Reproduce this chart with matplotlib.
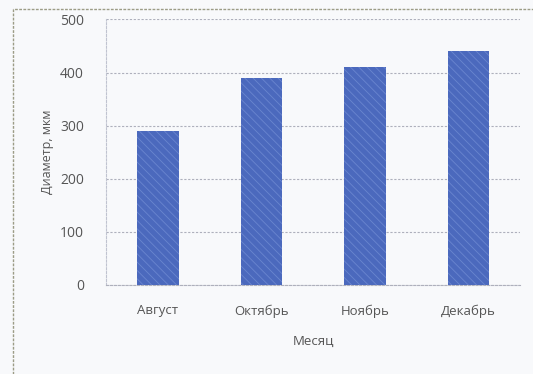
import matplotlib.pyplot as plt
from matplotlib.patches import Rectangle

# Data
months = ['Август', 'Октябрь', 'Ноябрь', 'Декабрь']
diameter = [290, 390, 410, 440]
y_ticks = [0, 100, 200, 300, 400, 500]

plt.rcParams['font.family'] = ['Open Sans', 'DejaVu Sans']
plt.rcParams['hatch.linewidth'] = 0.6

fig = plt.figure(figsize=(5.33, 3.74), dpi=100)
fig.patch.set_facecolor('#f8f9fb')

# outer chart frame (bottom edge falls off the picture)
fig.patches.append(Rectangle((0.024, -0.05), 1.0, 1.025, transform=fig.transFigure,
                             fill=False, edgecolor='#9c9c86', linewidth=1.0,
                             linestyle=(0, (2, 1))))

ax = fig.add_axes([0.199, 0.238, 0.777, 0.71])
ax.set_facecolor('none')

x = range(len(months))
ax.bar(x, diameter, width=0.4, color='#4b69bd', edgecolor='#6a86cf',
       hatch='\\\\\\\\', linewidth=0, zorder=3)

ax.set_ylim(0, 500)
ax.set_xlim(-0.5, len(months) - 0.5)
ax.set_yticks(y_ticks)
ax.set_xticks(list(x))
ax.set_xticklabels(months)

grid_col = '#aeb0bc'
ax.grid(axis='y', color=grid_col, linestyle=(0, (2, 1.5)), linewidth=0.8, zorder=0)
for s in ['top', 'right']:
    ax.spines[s].set_visible(False)
ax.spines['left'].set_color('#c0c3d0')
ax.spines['left'].set_linestyle((0, (2, 1.5)))
ax.spines['bottom'].set_color(grid_col)
ax.spines['bottom'].set_linestyle((0, (2, 1.5)))

ax.tick_params(axis='both', length=0, colors='#555555')
ax.tick_params(axis='y', pad=16, labelsize=10)
ax.tick_params(axis='x', pad=14, labelsize=9.5)

ax.set_xlabel('Месяц', fontsize=9.5, color='#555555', labelpad=12)
ax.set_ylabel('Диаметр, мкм', fontsize=9, color='#555555', labelpad=4)

fig.savefig('out.png', dpi=100, facecolor=fig.get_facecolor())
